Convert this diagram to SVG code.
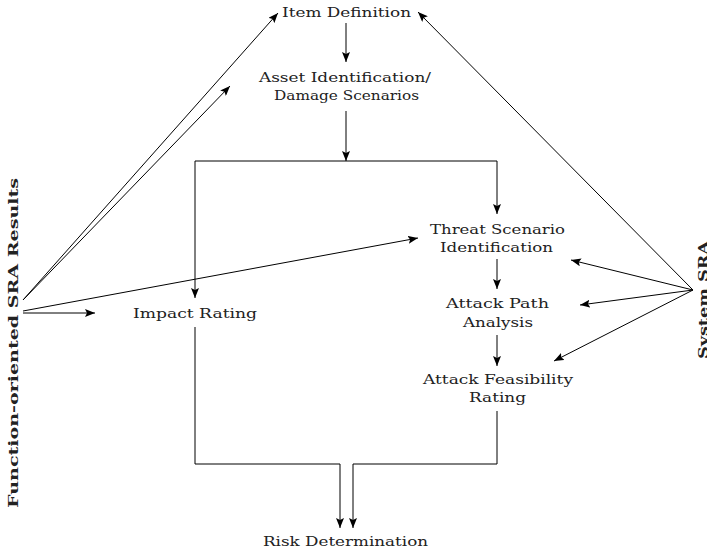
<svg xmlns="http://www.w3.org/2000/svg" width="707" height="550" viewBox="0 0 707 550">
  <style>
    .lbl { font-family: "DejaVu Serif", "Liberation Serif", serif; font-size: 12.5px; fill: #222; text-anchor: middle; }
    .side { font-family: "DejaVu Serif", "Liberation Serif", serif; font-size: 12.5px; font-weight: bold; fill: #222; text-anchor: middle; }
    .edge { fill: none; stroke: #000; stroke-width: 1; }
    .arr { marker-end: url(#head); }
  </style>
  <defs>
    <marker id="head" viewBox="0 0 10 8" refX="10" refY="4" markerWidth="10" markerHeight="8" markerUnits="userSpaceOnUse" orient="auto">
      <path d="M0,0 L10,4 L0,8 L2,4 Z" fill="#000"/>
    </marker>
  </defs>
  <rect width="707" height="550" fill="#fff"/>

  <g id="connectors">
    <!-- main chain -->
    <line class="edge arr" x1="346" y1="23" x2="346" y2="62"/>
    <line class="edge arr" x1="346" y1="111" x2="346" y2="161"/>
    <polyline class="edge" points="195,161 497,161"/>
    <line class="edge arr" x1="195" y1="161" x2="195" y2="298"/>
    <line class="edge arr" x1="497" y1="161" x2="497" y2="214"/>
    <line class="edge arr" x1="497" y1="259" x2="497" y2="289"/>
    <line class="edge arr" x1="497" y1="335" x2="497" y2="366"/>
    <!-- merge into risk determination -->
    <polyline class="edge arr" points="195,327 195,464 340,464 340,528"/>
    <polyline class="edge arr" points="497,411 497,464 353,464 353,528"/>
    <!-- function-oriented SRA inputs -->
    <line class="edge arr" x1="23" y1="300" x2="278" y2="13"/>
    <line class="edge arr" x1="23" y1="300" x2="230" y2="86"/>
    <line class="edge arr" x1="23" y1="311" x2="418" y2="238"/>
    <line class="edge arr" x1="23" y1="313" x2="95" y2="313"/>
    <!-- system SRA inputs -->
    <line class="edge arr" x1="693" y1="290" x2="418" y2="12"/>
    <line class="edge arr" x1="693" y1="290" x2="571" y2="260"/>
    <line class="edge arr" x1="693" y1="290" x2="580" y2="305"/>
    <line class="edge arr" x1="693" y1="290" x2="554" y2="361"/>
  </g>

  <g id="item-definition">
    <text class="lbl" x="346.5" y="17" textLength="129" lengthAdjust="spacingAndGlyphs">Item Definition</text>
  </g>
  <g id="asset-identification">
    <text class="lbl" x="345" y="82" textLength="172" lengthAdjust="spacingAndGlyphs">Asset Identification/</text>
    <text class="lbl" x="346.5" y="100" textLength="145" lengthAdjust="spacingAndGlyphs">Damage Scenarios</text>
  </g>
  <g id="threat-scenario">
    <text class="lbl" x="497.5" y="234" textLength="135" lengthAdjust="spacingAndGlyphs">Threat Scenario</text>
    <text class="lbl" x="496.5" y="252" textLength="113" lengthAdjust="spacingAndGlyphs">Identification</text>
  </g>
  <g id="attack-path">
    <text class="lbl" x="497.5" y="308" textLength="103" lengthAdjust="spacingAndGlyphs">Attack Path</text>
    <text class="lbl" x="498" y="327" textLength="70" lengthAdjust="spacingAndGlyphs">Analysis</text>
  </g>
  <g id="attack-feasibility">
    <text class="lbl" x="498" y="384" textLength="150" lengthAdjust="spacingAndGlyphs">Attack Feasibility</text>
    <text class="lbl" x="497.5" y="402" textLength="57" lengthAdjust="spacingAndGlyphs">Rating</text>
  </g>
  <g id="impact-rating">
    <text class="lbl" x="195" y="318" textLength="124" lengthAdjust="spacingAndGlyphs">Impact Rating</text>
  </g>
  <g id="risk-determination">
    <text class="lbl" x="345.5" y="546" textLength="165" lengthAdjust="spacingAndGlyphs">Risk Determination</text>
  </g>
  <g id="function-oriented-sra">
    <text class="side" transform="translate(18,343) rotate(-90)" textLength="330" lengthAdjust="spacingAndGlyphs">Function-oriented SRA Results</text>
  </g>
  <g id="system-sra">
    <text class="side" transform="translate(708,300) rotate(-90)" textLength="118" lengthAdjust="spacingAndGlyphs">System SRA</text>
  </g>
</svg>
